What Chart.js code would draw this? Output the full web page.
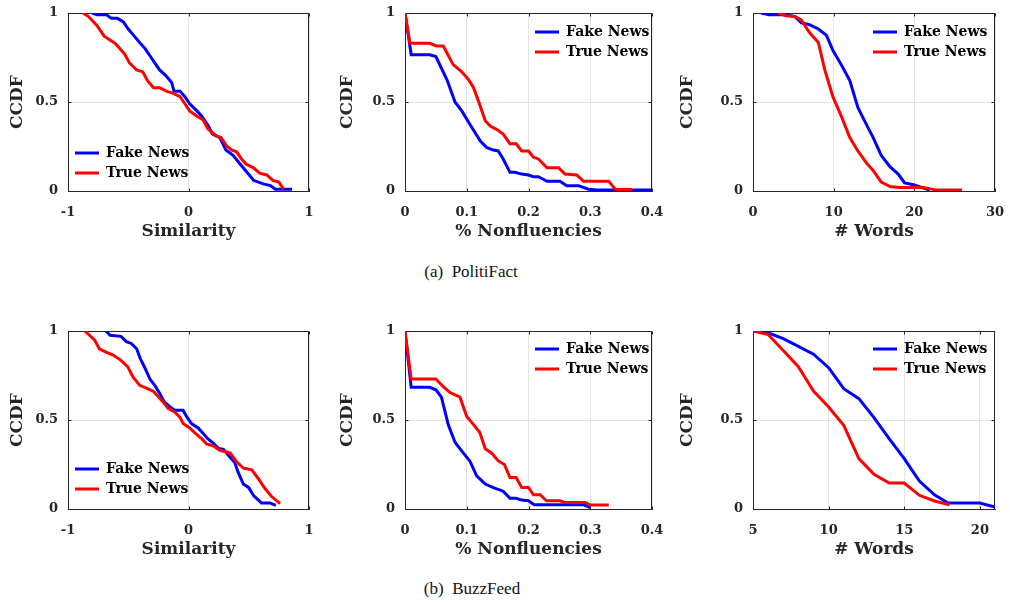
<!DOCTYPE html>
<html><head><meta charset="utf-8">
<script src="https://cdn.jsdelivr.net/npm/chart.js@4.4.0/dist/chart.umd.min.js"></script>
<style>
html,body{margin:0;padding:0;background:#fff;width:1010px;height:602px;overflow:hidden;position:relative}
.p{position:absolute}
.cap{position:absolute;font-family:"Liberation Serif",serif;font-size:17px;color:#111;transform:translate(-50%,-50%);white-space:pre}
</style></head><body>
<div class="p" style="left:0;top:0;width:330px;height:250px"><canvas id="c1"></canvas></div>
<div class="p" style="left:330px;top:0;width:340px;height:250px"><canvas id="c2"></canvas></div>
<div class="p" style="left:670px;top:0;width:340px;height:250px"><canvas id="c3"></canvas></div>
<div class="p" style="left:0;top:318px;width:330px;height:250px"><canvas id="c4"></canvas></div>
<div class="p" style="left:330px;top:318px;width:340px;height:250px"><canvas id="c5"></canvas></div>
<div class="p" style="left:670px;top:318px;width:340px;height:250px"><canvas id="c6"></canvas></div>
<div class="cap" style="left:471px;top:272px">(a)  PolitiFact</div>
<div class="cap" style="left:472px;top:589px">(b)  BuzzFeed</div>
<script>
const seriesNames = ['Fake News', 'True News'];
const yTitle = 'CCDF';
const xTitles = ['Similarity', '% Nonfluencies', '# Words'];

const ccdfTicks = [0, 0.5, 1];
const simTicks = [-1, 0, 1];
const nonTicks = [0, 0.1, 0.2, 0.3, 0.4];
const pfWordTicks = [0, 10, 20, 30];
const bfWordTicks = [5, 10, 15, 20];

const pfSimFakeX = [-0.80,-0.76,-0.68,-0.64,-0.59,-0.54,-0.50,-0.45,-0.40,-0.36,-0.32,-0.28,-0.24,-0.19,-0.14,-0.12,-0.07,-0.03,0.01,0.07,0.11,0.16,0.20,0.26,0.31,0.37,0.43,0.48,0.54,0.62,0.68,0.72,0.86];
const pfSimFakeY = [1.00,0.99,0.99,0.97,0.97,0.95,0.91,0.87,0.83,0.80,0.76,0.72,0.68,0.65,0.61,0.56,0.56,0.53,0.49,0.45,0.42,0.37,0.32,0.30,0.23,0.20,0.15,0.11,0.06,0.04,0.03,0.01,0.01];
const pfSimTrueX = [-0.875,-0.83,-0.76,-0.70,-0.61,-0.53,-0.49,-0.43,-0.38,-0.34,-0.29,-0.24,-0.18,-0.13,-0.07,-0.03,0.01,0.07,0.12,0.16,0.23,0.27,0.32,0.36,0.40,0.44,0.48,0.54,0.59,0.65,0.70,0.75,0.79];
const pfSimTrueY = [1.00,0.98,0.93,0.87,0.83,0.77,0.72,0.68,0.67,0.62,0.58,0.58,0.56,0.55,0.53,0.49,0.45,0.42,0.40,0.35,0.31,0.30,0.25,0.23,0.22,0.18,0.15,0.13,0.10,0.09,0.06,0.05,0.01];

const pfNonFakeX = [0,0.01,0.04,0.05,0.068,0.081,0.092,0.105,0.122,0.132,0.143,0.151,0.159,0.170,0.178,0.189,0.20,0.208,0.216,0.23,0.251,0.262,0.281,0.297,0.311,0.40];
const pfNonFakeY = [1,0.765,0.765,0.755,0.625,0.50,0.45,0.375,0.28,0.245,0.23,0.225,0.18,0.105,0.105,0.095,0.09,0.08,0.08,0.055,0.055,0.03,0.03,0.01,0.005,0.005];
const pfNonTrueX = [0,0.008,0.04,0.051,0.062,0.078,0.092,0.103,0.111,0.119,0.13,0.138,0.149,0.159,0.170,0.18,0.189,0.20,0.208,0.216,0.23,0.249,0.259,0.278,0.289,0.33,0.341,0.368];
const pfNonTrueY = [1,0.83,0.83,0.815,0.815,0.71,0.67,0.625,0.58,0.505,0.395,0.365,0.345,0.32,0.265,0.265,0.225,0.225,0.19,0.18,0.13,0.13,0.095,0.09,0.055,0.055,0.008,0.008];

const pfWordFakeX = [1,2,4.1,5.2,6,7,8.1,9.1,9.9,11,12,13,14.1,14.9,15.9,17,18,18.8,19.9,20.9,21.9];
const pfWordFakeY = [1,0.99,0.99,0.98,0.945,0.935,0.91,0.875,0.79,0.705,0.62,0.47,0.37,0.30,0.20,0.135,0.095,0.045,0.035,0.02,0.005];
const pfWordTrueX = [3.1,4.1,5.2,6,7,8.1,8.9,9.9,11,12,13,14.1,14.9,15.9,17,18.2,21.1,22.8,25.9];
const pfWordTrueY = [1,0.985,0.98,0.96,0.89,0.835,0.68,0.53,0.415,0.30,0.225,0.155,0.115,0.05,0.025,0.02,0.02,0.005,0.005];

const bfSimFakeX = [-0.687,-0.65,-0.56,-0.515,-0.475,-0.43,-0.40,-0.36,-0.32,-0.28,-0.24,-0.20,-0.155,-0.115,-0.045,-0.017,0.025,0.08,0.12,0.16,0.205,0.25,0.29,0.345,0.385,0.41,0.455,0.50,0.54,0.605,0.675,0.725];
const bfSimFakeY = [1,0.976,0.97,0.94,0.93,0.90,0.845,0.79,0.73,0.695,0.65,0.60,0.575,0.555,0.555,0.52,0.48,0.455,0.425,0.395,0.37,0.34,0.335,0.29,0.26,0.21,0.14,0.12,0.075,0.034,0.034,0.02];
const bfSimTrueX = [-0.86,-0.78,-0.74,-0.68,-0.625,-0.56,-0.505,-0.46,-0.405,-0.335,-0.29,-0.25,-0.21,-0.17,-0.115,-0.07,-0.045,0.01,0.065,0.11,0.15,0.205,0.26,0.345,0.40,0.455,0.525,0.58,0.635,0.69,0.76];
const bfSimTrueY = [1,0.95,0.90,0.88,0.865,0.835,0.80,0.74,0.695,0.675,0.66,0.63,0.60,0.565,0.545,0.515,0.48,0.455,0.42,0.395,0.365,0.355,0.33,0.315,0.265,0.23,0.22,0.17,0.115,0.07,0.03];

const bfNonFakeX = [0,0.01,0.04,0.05,0.059,0.07,0.081,0.092,0.105,0.116,0.13,0.143,0.159,0.17,0.18,0.189,0.20,0.209,0.289,0.30];
const bfNonFakeY = [1,0.684,0.684,0.67,0.628,0.474,0.375,0.325,0.27,0.186,0.14,0.12,0.10,0.06,0.06,0.05,0.046,0.024,0.024,0.008];
const bfNonTrueX = [0,0.01,0.05,0.062,0.073,0.089,0.1,0.111,0.121,0.13,0.141,0.151,0.161,0.17,0.18,0.189,0.2,0.208,0.219,0.229,0.251,0.259,0.292,0.3,0.33];
const bfNonTrueY = [1,0.73,0.73,0.688,0.654,0.628,0.52,0.474,0.431,0.338,0.312,0.27,0.25,0.177,0.177,0.121,0.121,0.08,0.08,0.046,0.046,0.037,0.037,0.022,0.022];

const bfWordFakeX = [5,6,7,8,9,10,11,12,13,14,15,16,17,17.9,20,21];
const bfWordFakeY = [1,0.99,0.957,0.914,0.87,0.794,0.676,0.62,0.513,0.395,0.283,0.157,0.08,0.034,0.034,0.011];
const bfWordTrueX = [5,6,7,8,9,10,11,12,13,14,15,16,17,18];
const bfWordTrueY = [1,0.98,0.89,0.80,0.663,0.573,0.47,0.283,0.195,0.146,0.146,0.077,0.045,0.024];

const FONT = "'DejaVu Serif', serif";
const INK = '#262626';
const zip = (xs, ys) => xs.map((x, i) => ({x: x, y: ys[i]}));

// Box frame with small inward tick marks (MATLAB style), placed through the chart's own scales
const framePlugin = {
  id: 'frame',
  beforeDatasetsDraw(chart) {
    const {ctx, chartArea: a, scales} = chart;
    const L = Math.round(a.left) + 0.5, T = Math.round(a.top) + 0.5;
    const R = Math.round(a.right) - 0.5, B = Math.round(a.bottom) + 0.5;
    ctx.save();
    ctx.strokeStyle = INK; ctx.lineWidth = 1;
    ctx.strokeRect(L, T, R - L, B - T);
    ctx.beginPath();
    scales.x.ticks.forEach(t => {
      const px = Math.round(scales.x.getPixelForValue(t.value)) + 0.5;
      ctx.moveTo(px, B); ctx.lineTo(px, B - 3);
      ctx.moveTo(px, T); ctx.lineTo(px, T + 3);
    });
    scales.y.ticks.forEach(t => {
      const py = Math.round(scales.y.getPixelForValue(t.value)) + 0.5;
      ctx.moveTo(L, py); ctx.lineTo(L + 3, py);
      ctx.moveTo(R, py); ctx.lineTo(R - 3, py);
    });
    ctx.stroke();
    ctx.restore();
  }
};
const legendPlace = {
  id: 'legendPlace',
  afterLayout(chart, args, o) {
    const lg = chart.legend; if (!lg || !o || o.left == null && o.right == null) return;
    const ca = chart.chartArea;
    const pad = lg.options.labels.padding;
    const fs = lg.options.labels.font.size;
    const x = o.right != null ? ca.right - o.right : ca.left + o.left;
    const y = ca.top + o.top;
    const w = lg.width, h = lg.height;
    lg.left = x - pad; lg.right = lg.left + w;
    lg.top = y - fs / 2 - pad; lg.bottom = lg.top + h;
  }
};

function make(id, xr, xTicks, xTitle, fx, fy, tx, ty, yW, padR, leg) {
  new Chart(document.getElementById(id), {
    type: 'line',
    data: {
      datasets: [
        {label: seriesNames[0], data: zip(fx, fy), borderColor: '#0000ff', backgroundColor: '#0000ff', borderWidth: 3, pointRadius: 0, tension: 0, order: 1},
        {label: seriesNames[1], data: zip(tx, ty), borderColor: '#ff0000', backgroundColor: '#ff0000', borderWidth: 3, pointRadius: 0, tension: 0, order: 0}
      ]
    },
    options: {
      responsive: true, maintainAspectRatio: false, animation: false,
      layout: {padding: {top: 13, right: padR, left: 0, bottom: 0}},
      scales: {
        x: {
          type: 'linear', min: xr[0], max: xr[1],
          afterBuildTicks: s => { s.ticks = xTicks.map(v => ({value: v})); },
          afterFit: s => { s.height = 59; },
          grid: {color: '#e4e4e4', drawTicks: true, tickLength: 12, tickColor: 'rgba(0,0,0,0)'},
          border: {color: INK, width: 1},
          ticks: {padding: 2, color: INK, font: {family: FONT, size: 13, weight: 'bold'}, callback: v => String(v), maxRotation: 0},
          title: {display: true, text: xTitle, color: INK, padding: {top: 0, bottom: 8}, font: {family: FONT, size: 17, weight: 'bold'}}
        },
        y: {
          type: 'linear', min: 0, max: 1,
          afterBuildTicks: s => { s.ticks = ccdfTicks.map(v => ({value: v})); },
          afterFit: s => { s.width = yW; },
          grid: {color: '#e4e4e4', drawTicks: true, tickLength: 7, tickColor: 'rgba(0,0,0,0)'},
          border: {color: INK, width: 1},
          ticks: {padding: 3, color: INK, font: {family: FONT, size: 13, weight: 'bold'}, callback: v => String(v)},
          title: {display: true, text: yTitle, color: INK, padding: {top: 7, bottom: 0}, font: {family: FONT, size: 17, weight: 'bold'}}
        }
      },
      plugins: {
        tooltip: {enabled: false},
        legend: {
          position: 'chartArea', align: 'start',
          labels: {
            usePointStyle: true, pointStyle: 'line', pointStyleWidth: 24, padding: 6, color: '#000',
            font: {family: FONT, size: 14, weight: 'bold'},
            sort: (a, b) => a.datasetIndex - b.datasetIndex
          }
        },
        legendPlace: leg
      }
    },
    plugins: [framePlugin, legendPlace]
  });
}

make('c1', [-1, 1], simTicks, xTitles[0], pfSimFakeX, pfSimFakeY, pfSimTrueX, pfSimTrueY, 68, 21, {left: 7, top: 140});
make('c2', [0, 0.4], nonTicks, xTitles[1], pfNonFakeX, pfNonFakeY, pfNonTrueX, pfNonTrueY, 75, 18, {right: 117, top: 19});
make('c3', [0, 30], pfWordTicks, xTitles[2], pfWordFakeX, pfWordFakeY, pfWordTrueX, pfWordTrueY, 83, 15, {right: 122, top: 19});
make('c4', [-1, 1], simTicks, xTitles[0], bfSimFakeX, bfSimFakeY, bfSimTrueX, bfSimTrueY, 68, 21, {left: 7, top: 138});
make('c5', [0, 0.4], nonTicks, xTitles[1], bfNonFakeX, bfNonFakeY, bfNonTrueX, bfNonTrueY, 75, 18, {right: 117, top: 18});
make('c6', [5, 21], bfWordTicks, xTitles[2], bfWordFakeX, bfWordFakeY, bfWordTrueX, bfWordTrueY, 83, 15, {right: 122, top: 18});
</script>
</body></html>
